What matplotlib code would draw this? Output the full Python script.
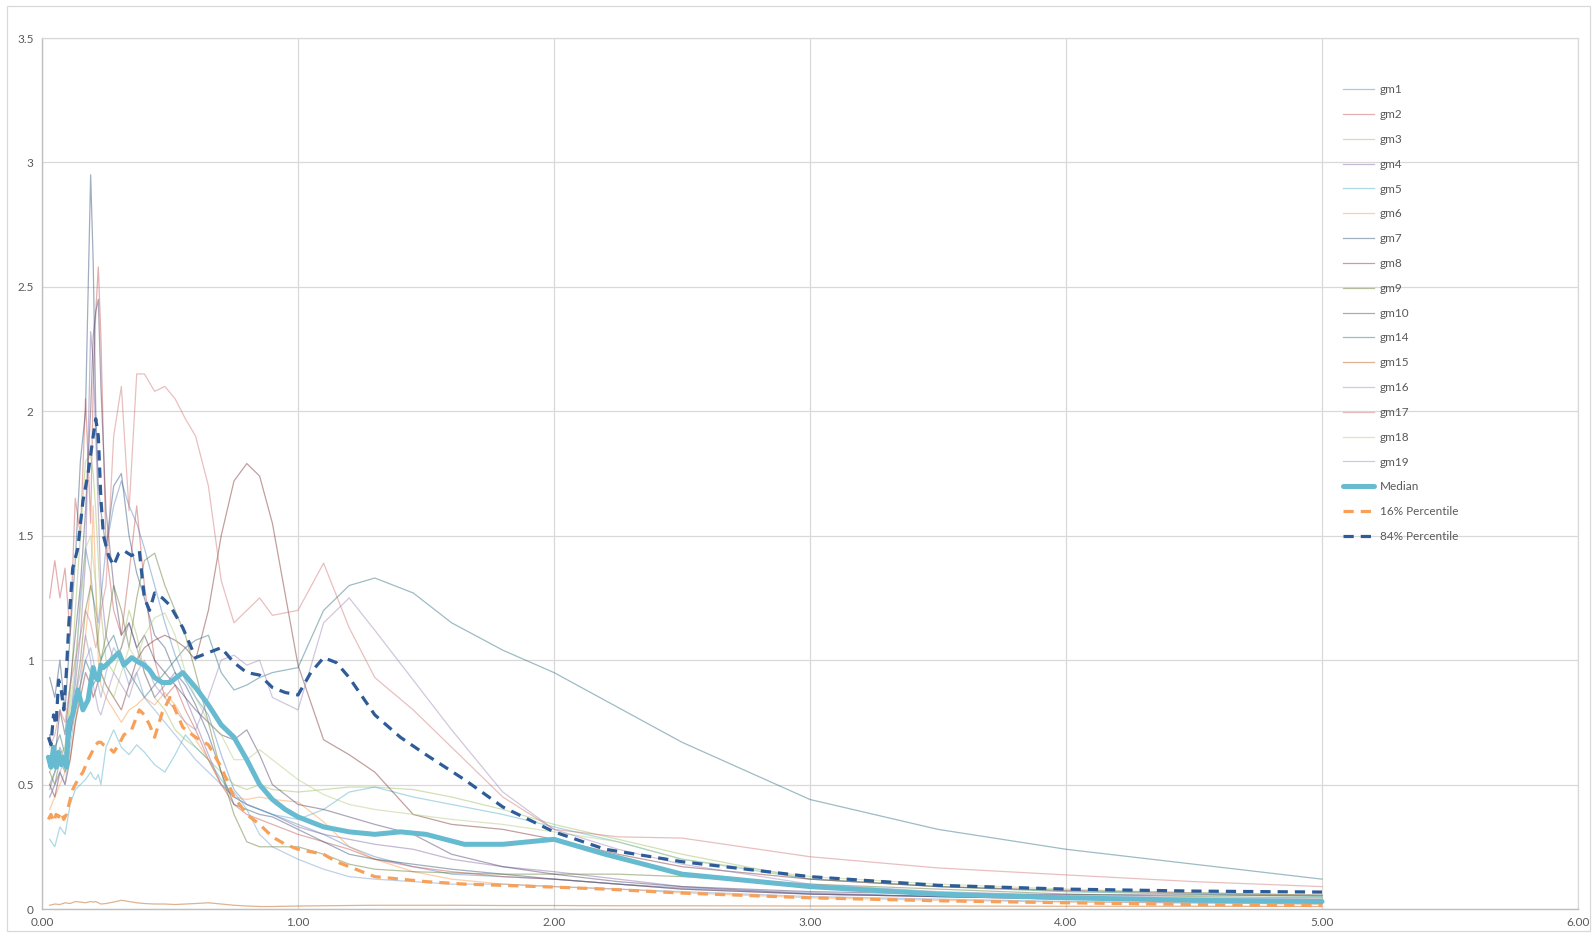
import matplotlib
matplotlib.use("Agg")
import matplotlib.pyplot as plt
from matplotlib.patches import Rectangle

plt.rcParams['font.family'] = ['Lato', 'DejaVu Sans']

# 周期（秒）
periods = [0.03, 0.05, 0.07, 0.09, 0.11, 0.13, 0.15, 0.17, 0.19, 0.20, 0.21, 0.22, 0.23, 0.25,
           0.28, 0.31, 0.34, 0.37, 0.40, 0.44, 0.48, 0.52, 0.56, 0.60, 0.65, 0.70, 0.75, 0.80,
           0.85, 0.90, 1.00, 1.10, 1.20, 1.30, 1.45, 1.60, 1.80, 2.00, 2.25, 2.50, 3.00, 3.50,
           4.00, 4.50, 5.00]

gm1 = [0.48, 0.55, 0.62, 0.58, 0.75, 0.95, 1.25, 1.45, 1.35, 1.25, 1.2, 1.15, 1.25, 1.45, 1.62, 1.72, 1.62, 1.55, 1.45, 1.3, 1.15, 1.02, 0.92, 0.85, 0.78, 0.62, 0.48, 0.42, 0.4, 0.38, 0.34, 0.3, 0.25, 0.21, 0.17, 0.14, 0.13, 0.12, 0.1, 0.085, 0.065, 0.05, 0.04, 0.035, 0.03]
gm2 = [1.25, 1.4, 1.25, 1.37, 1.1, 1.65, 1.5, 2.05, 1.55, 2.1, 2.4, 2.58, 2.3, 1.45, 1.2, 1.1, 1.35, 1.62, 1.3, 1.0, 0.85, 0.9, 0.8, 0.72, 0.6, 0.5, 0.42, 0.38, 0.36, 0.34, 0.3, 0.27, 0.24, 0.2, 0.17, 0.15, 0.13, 0.12, 0.1, 0.08, 0.06, 0.05, 0.04, 0.035, 0.03]
gm3 = [0.55, 0.6, 0.62, 0.65, 0.85, 1.2, 1.5, 1.8, 1.82, 1.75, 1.6, 1.4, 1.2, 1.0, 0.95, 1.05, 1.2, 1.1, 0.95, 0.85, 0.8, 0.72, 0.68, 0.65, 0.6, 0.55, 0.5, 0.48, 0.5, 0.48, 0.47, 0.48, 0.49, 0.49, 0.48, 0.45, 0.4, 0.34, 0.28, 0.22, 0.12, 0.09, 0.07, 0.06, 0.05]
gm4 = [0.5, 0.55, 0.65, 0.6, 0.75, 0.9, 1.1, 1.4, 2.32, 2.2, 1.9, 1.6, 1.3, 1.1, 1.0, 1.05, 1.15, 1.05, 0.95, 0.85, 0.9, 0.95, 0.85, 0.75, 0.62, 0.5, 0.45, 0.42, 0.4, 0.38, 0.33, 0.3, 0.28, 0.26, 0.24, 0.2, 0.17, 0.15, 0.12, 0.09, 0.06, 0.05, 0.04, 0.035, 0.03]
gm5 = [0.28, 0.25, 0.33, 0.3, 0.42, 0.48, 0.5, 0.52, 0.55, 0.53, 0.52, 0.54, 0.5, 0.65, 0.72, 0.65, 0.62, 0.66, 0.63, 0.58, 0.55, 0.62, 0.7, 0.65, 0.6, 0.52, 0.45, 0.42, 0.4, 0.38, 0.36, 0.4, 0.47, 0.49, 0.45, 0.42, 0.38, 0.33, 0.27, 0.2, 0.12, 0.09, 0.07, 0.06, 0.05]
gm6 = [0.4, 0.45, 0.5, 0.55, 0.6, 0.75, 0.9, 1.1, 1.3, 1.62, 1.3, 1.0, 0.9, 0.85, 0.8, 0.75, 0.8, 0.82, 0.85, 0.82, 0.87, 0.82, 0.75, 0.68, 0.6, 0.5, 0.45, 0.44, 0.45, 0.44, 0.43, 0.35, 0.25, 0.2, 0.15, 0.12, 0.1, 0.09, 0.08, 0.065, 0.045, 0.035, 0.028, 0.024, 0.02]
gm7 = [0.93, 0.85, 1.0, 0.8, 1.1, 1.4, 1.8, 2.0, 2.95, 2.6, 2.0, 1.7, 1.6, 1.45, 1.7, 1.75, 1.5, 1.35, 1.25, 1.1, 1.05, 0.95, 0.9, 0.82, 0.7, 0.55, 0.42, 0.4, 0.38, 0.37, 0.32, 0.27, 0.22, 0.2, 0.18, 0.16, 0.14, 0.12, 0.1, 0.08, 0.06, 0.05, 0.045, 0.04, 0.035]
gm8 = [0.5, 0.45, 0.55, 0.5, 0.6, 0.75, 0.85, 0.95, 0.9, 0.85, 0.88, 0.92, 0.95, 0.9, 0.85, 0.8, 0.9, 1.0, 1.05, 1.08, 1.1, 1.08, 1.05, 1.0, 1.2, 1.5, 1.72, 1.79, 1.74, 1.55, 0.98, 0.68, 0.62, 0.55, 0.38, 0.34, 0.32, 0.28, 0.22, 0.17, 0.12, 0.09, 0.075, 0.065, 0.055]
gm9 = [0.55, 0.5, 0.6, 0.55, 0.7, 0.85, 1.0, 1.2, 1.3, 1.25, 1.15, 1.05, 1.0, 1.1, 1.3, 1.2, 1.05, 1.25, 1.4, 1.43, 1.3, 1.2, 1.1, 0.95, 0.75, 0.55, 0.38, 0.27, 0.25, 0.25, 0.25, 0.22, 0.18, 0.16, 0.15, 0.145, 0.14, 0.14, 0.14, 0.13, 0.1, 0.08, 0.06, 0.05, 0.045]
gm10 = [0.7, 0.6, 0.8, 0.7, 0.9, 1.1, 1.3, 1.6, 2.0, 2.3, 2.4, 2.45, 2.1, 1.6, 1.3, 1.1, 1.15, 1.05, 1.1, 1.0, 0.95, 0.9, 0.85, 0.8, 0.75, 0.7, 0.68, 0.72, 0.62, 0.5, 0.42, 0.4, 0.37, 0.34, 0.3, 0.22, 0.17, 0.14, 0.11, 0.09, 0.07, 0.06, 0.058, 0.056, 0.055]
gm14 = [0.6, 0.65, 0.7, 0.62, 0.7, 0.8, 0.9, 1.0, 0.95, 0.9, 0.92, 0.95, 1.0, 1.05, 1.1, 1.0, 0.95, 0.9, 0.85, 0.9, 0.95, 1.0, 1.05, 1.08, 1.1, 0.95, 0.88, 0.9, 0.93, 0.95, 0.97, 1.2, 1.3, 1.33, 1.27, 1.15, 1.04, 0.95, 0.81, 0.67, 0.44, 0.32, 0.24, 0.18, 0.12]
gm15 = [0.015, 0.02, 0.018, 0.025, 0.022, 0.03, 0.028, 0.025, 0.03, 0.028, 0.03, 0.025, 0.02, 0.022, 0.028, 0.035, 0.03, 0.025, 0.022, 0.02, 0.02, 0.018, 0.02, 0.022, 0.025, 0.02, 0.015, 0.012, 0.01, 0.01, 0.012, 0.013, 0.014, 0.015, 0.015, 0.015, 0.014, 0.014, 0.013, 0.013, 0.012, 0.012, 0.011, 0.011, 0.01]
gm16 = [0.45, 0.5, 0.55, 0.5, 0.65, 0.8, 0.9, 1.0, 1.05, 1.0, 0.95, 0.9, 0.85, 0.95, 1.05, 1.0, 0.9, 0.95, 0.85, 0.8, 0.75, 0.7, 0.65, 0.6, 0.55, 0.5, 0.47, 0.4, 0.3, 0.25, 0.2, 0.16, 0.13, 0.12, 0.11, 0.1, 0.1, 0.09, 0.08, 0.07, 0.05, 0.04, 0.03, 0.025, 0.02]
gm17 = [0.65, 0.7, 0.8, 0.75, 0.9, 1.0, 1.1, 1.2, 1.15, 1.1, 1.05, 1.1, 1.2, 1.3, 1.9, 2.1, 1.6, 2.15, 2.15, 2.08, 2.1, 2.05, 1.97, 1.9, 1.7, 1.32, 1.15, 1.2, 1.25, 1.18, 1.2, 1.39, 1.13, 0.93, 0.8, 0.65, 0.45, 0.32, 0.29, 0.285, 0.21, 0.165, 0.137, 0.11, 0.09]
gm18 = [0.5, 0.55, 0.6, 0.65, 0.8, 1.0, 1.2, 1.45, 1.5, 1.4, 1.3, 1.1, 0.95, 0.9, 0.85, 0.95, 1.05, 1.0, 1.1, 1.17, 1.19, 1.1, 0.95, 0.85, 0.75, 0.7, 0.6, 0.6, 0.64, 0.6, 0.52, 0.46, 0.42, 0.4, 0.38, 0.36, 0.34, 0.31, 0.27, 0.2, 0.13, 0.1, 0.08, 0.065, 0.055]
gm19 = [0.45, 0.5, 0.55, 0.6, 0.7, 0.85, 0.95, 1.1, 1.0, 0.9, 0.85, 0.8, 0.78, 0.85, 0.95, 0.9, 0.85, 0.95, 1.0, 0.9, 0.85, 0.8, 0.75, 0.72, 0.85, 1.0, 1.02, 0.98, 1.0, 0.85, 0.8, 1.15, 1.25, 1.12, 0.92, 0.72, 0.47, 0.32, 0.24, 0.18, 0.1, 0.07, 0.055, 0.045, 0.04]

gm_names = ['gm1', 'gm2', 'gm3', 'gm4', 'gm5', 'gm6', 'gm7', 'gm8', 'gm9', 'gm10',
            'gm14', 'gm15', 'gm16', 'gm17', 'gm18', 'gm19']
gm_values = [gm1, gm2, gm3, gm4, gm5, gm6, gm7, gm8, gm9, gm10,
             gm14, gm15, gm16, gm17, gm18, gm19]
gm_colors = ['#4F81BD', '#C0504D', '#9BBB59', '#8064A2', '#4BACC6', '#F79646',
             '#2C4D75', '#772C2A', '#5F7530', '#4D3B62', '#276A7C', '#B65708',
             '#729ACA', '#CD7371', '#AFC97A', '#9983B5']

# 统计曲线
stat_periods = [0.025, 0.035, 0.045, 0.055, 0.065, 0.075, 0.085, 0.095, 0.105, 0.12, 0.14, 0.16,
                0.18, 0.20, 0.21, 0.22, 0.23, 0.24, 0.26, 0.28, 0.30, 0.32, 0.35, 0.38, 0.40,
                0.42, 0.44, 0.47, 0.50, 0.55, 0.60, 0.65, 0.70, 0.75, 0.80, 0.85, 0.90, 0.95,
                1.00, 1.05, 1.10, 1.15, 1.20, 1.30, 1.40, 1.50, 1.65, 1.80, 2.00, 2.20, 2.50,
                3.00, 3.50, 4.00, 4.50, 5.00]
median = [0.61, 0.57, 0.65, 0.57, 0.63, 0.58, 0.61, 0.57, 0.75, 0.78, 0.88, 0.80, 0.84, 0.97, 0.93,
          0.92, 0.98, 0.97, 0.99, 1.01, 1.03, 0.98, 1.01, 0.99, 0.98, 0.96, 0.93, 0.91, 0.91, 0.95,
          0.89, 0.82, 0.74, 0.69, 0.60, 0.50, 0.44, 0.40, 0.37, 0.35, 0.33, 0.32, 0.31, 0.30, 0.31,
          0.30, 0.26, 0.26, 0.28, 0.22, 0.14, 0.09, 0.06, 0.045, 0.035, 0.03]
p16 = [0.36, 0.38, 0.35, 0.38, 0.37, 0.39, 0.36, 0.38, 0.42, 0.48, 0.52, 0.55, 0.60, 0.64, 0.66,
       0.67, 0.67, 0.66, 0.65, 0.63, 0.66, 0.70, 0.72, 0.80, 0.78, 0.74, 0.69, 0.79, 0.85, 0.73,
       0.69, 0.66, 0.57, 0.45, 0.38, 0.34, 0.29, 0.26, 0.24, 0.23, 0.22, 0.19, 0.17, 0.13, 0.12,
       0.11, 0.10, 0.095, 0.088, 0.08, 0.064, 0.045, 0.033, 0.025, 0.018, 0.014]
p84 = [0.69, 0.66, 0.78, 0.74, 0.92, 0.88, 0.80, 0.95, 1.15, 1.37, 1.45, 1.64, 1.75, 1.90, 1.97,
       1.90, 1.65, 1.50, 1.42, 1.38, 1.43, 1.44, 1.42, 1.44, 1.25, 1.20, 1.27, 1.25, 1.22, 1.13,
       1.01, 1.03, 1.05, 0.99, 0.95, 0.94, 0.89, 0.87, 0.86, 0.95, 1.01, 0.99, 0.93, 0.78, 0.69,
       0.62, 0.52, 0.41, 0.31, 0.24, 0.19, 0.13, 0.095, 0.08, 0.072, 0.068]

x_ticks = [0, 1, 2, 3, 4, 5, 6]
y_ticks = [0, 0.5, 1, 1.5, 2, 2.5, 3, 3.5]

fig = plt.figure(figsize=(15.96, 9.36), dpi=100)
ax = fig.add_axes([42 / 1596, 1 - 909 / 936, 1536 / 1596, 871 / 936])

for name, vals, col in zip(gm_names, gm_values, gm_colors):
    ax.plot(periods, vals, color=col, lw=0.9, alpha=0.45, label=name)

ax.plot(stat_periods, median, color='#67BBD0', lw=3.6, label='Median', solid_capstyle='round')
ax.plot(stat_periods, p16, color='#F7A05A', lw=2.3, ls=(0, (3.2, 2.2)), label='16% Percentile')
ax.plot(stat_periods, p84, color='#2E5C99', lw=2.3, ls=(0, (3.2, 2.2)), label='84% Percentile')

ax.set_xlim(0, 6)
ax.set_ylim(0, 3.5)
ax.set_xticks(x_ticks)
ax.set_xticklabels(['%.2f' % v for v in x_ticks])
ax.set_yticks(y_ticks)
ax.set_yticklabels(['%g' % v for v in y_ticks])
ax.tick_params(length=0, labelsize=8.5, labelcolor='#595959', pad=6)
ax.grid(True, color='#D9D9D9', lw=0.9)
ax.set_axisbelow(True)
for side in ['top', 'right']:
    ax.spines[side].set_color('#D9D9D9')
    ax.spines[side].set_linewidth(0.9)
for side in ['left', 'bottom']:
    ax.spines[side].set_color('#BFBFBF')
    ax.spines[side].set_linewidth(1.0)

leg = ax.legend(loc='upper left', bbox_to_anchor=(0.84, 0.959), frameon=False,
                fontsize=8.5, handlelength=2.6, labelspacing=1.17, handletextpad=0.55)
for t in leg.get_texts():
    t.set_color('#595959')

# 图表外框
fig.patches.append(Rectangle((7 / 1596, 1 - 931 / 936), 1583 / 1596, 925 / 936,
                             transform=fig.transFigure, fill=False, ec='#D9D9D9', lw=0.9))

fig.savefig('out.png', dpi=100, facecolor='white')
